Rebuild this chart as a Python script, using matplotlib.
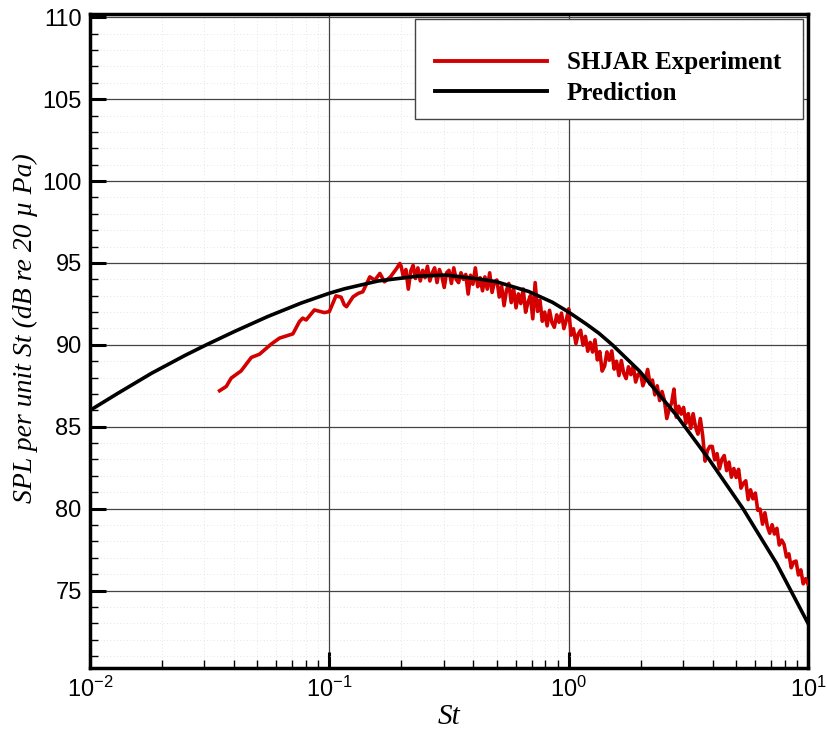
import matplotlib
matplotlib.use("Agg")
import matplotlib.pyplot as plt
from matplotlib.patches import Rectangle
from matplotlib.ticker import MultipleLocator, LogLocator, NullFormatter, FixedLocator, FixedFormatter

# SHJAR experiment, SPL per unit St
st_exp = [0.0348, 0.0371, 0.0389, 0.0428, 0.0472, 0.0511, 0.0571, 0.0619, 0.0704, 0.0750,
          0.0774, 0.0800, 0.0866, 0.0953, 0.1000, 0.1066, 0.1120, 0.1155, 0.1180, 0.1256,
          0.1320, 0.1380, 0.1476, 0.1550, 0.1626, 0.1700, 0.1800, 0.1910, 0.1970,
          0.1995, 0.2042, 0.2089, 0.2138, 0.2188, 0.2239, 0.2291, 0.2344, 0.2399, 0.2455,
          0.2512, 0.2570, 0.2630, 0.2692, 0.2754, 0.2818, 0.2884, 0.2951, 0.3020, 0.3090,
          0.3162, 0.3236, 0.3311, 0.3388, 0.3467, 0.3548, 0.3631, 0.3715, 0.3802, 0.3890,
          0.3981, 0.4074, 0.4169, 0.4266, 0.4365, 0.4467, 0.4571, 0.4677, 0.4786, 0.4898,
          0.5012, 0.5129, 0.5248, 0.5370, 0.5495, 0.5623, 0.5754, 0.5888, 0.6026, 0.6166,
          0.6310, 0.6457, 0.6607, 0.6761, 0.6918, 0.7079, 0.7244, 0.7413, 0.7586, 0.7762,
          0.7943, 0.8128, 0.8318, 0.8511, 0.8710, 0.8913, 0.9120, 0.9333, 0.9550, 0.9772,
          1.000, 1.023, 1.047, 1.072, 1.096, 1.122, 1.148, 1.175, 1.202, 1.230,
          1.259, 1.288, 1.318, 1.349, 1.380, 1.413, 1.445, 1.479, 1.514, 1.549,
          1.585, 1.622, 1.660, 1.698, 1.738, 1.778, 1.820, 1.862, 1.905, 1.950,
          1.995, 2.042, 2.089, 2.138, 2.188, 2.239, 2.291, 2.344, 2.399, 2.455,
          2.512, 2.570, 2.630, 2.692, 2.754, 2.818, 2.884, 2.951, 3.020, 3.090,
          3.162, 3.236, 3.311, 3.388, 3.467, 3.548, 3.631, 3.715, 3.802, 3.890,
          3.981, 4.074, 4.169, 4.266, 4.365, 4.467, 4.571, 4.677, 4.786, 4.898,
          5.012, 5.129, 5.248, 5.370, 5.495, 5.623, 5.754, 5.888, 6.026, 6.166,
          6.310, 6.457, 6.607, 6.761, 6.918, 7.079, 7.244, 7.413, 7.586, 7.762,
          7.943, 8.128, 8.318, 8.511, 8.710, 8.913, 9.120, 9.333, 9.550, 9.772,
          10.00]
spl_exp = [87.20, 87.46, 87.97, 88.41, 89.23, 89.43, 90.04, 90.41, 90.67, 91.42,
           91.63, 91.52, 92.13, 91.97, 92.03, 92.99, 92.91, 92.44, 92.33, 92.93,
           93.14, 93.24, 94.15, 93.95, 94.36, 93.85, 94.15, 94.66, 94.97,
           94.80, 94.10, 94.60, 93.40, 94.50, 94.85, 94.05, 94.70, 93.90, 94.55,
           94.10, 94.80, 93.90, 94.40, 94.70, 93.80, 94.60, 94.20, 93.50, 94.40,
           94.55, 93.75, 94.70, 94.00, 93.80, 94.40, 94.00, 94.30, 93.10, 94.25,
           93.70, 94.70, 93.55, 94.10, 93.30, 94.15, 93.40, 94.40, 93.20, 93.85,
           93.96, 92.92, 93.57, 92.39, 93.32, 93.75, 92.58, 93.43, 92.26, 93.11,
           92.52, 93.41, 91.99, 92.60, 93.00, 91.59, 93.80, 92.04, 92.72, 91.44,
           92.00, 91.16, 92.11, 91.37, 91.07, 91.83, 91.38, 91.94, 90.99, 91.50,
           92.20, 90.59, 90.98, 90.07, 90.66, 90.89, 89.98, 90.52, 89.61, 90.15,
           89.56, 90.31, 89.08, 89.59, 88.40, 88.70, 89.57, 89.06, 89.63, 88.52,
           89.00, 88.12, 89.04, 88.27, 87.94, 88.66, 88.18, 88.71, 87.73, 88.20,
           88.30, 87.50, 87.90, 88.50, 87.60, 87.85, 86.95, 87.50, 86.60, 87.15,
           86.60, 85.50, 86.08, 86.45, 87.30, 85.58, 86.25, 85.77, 86.18, 85.20,
           85.80, 84.90, 85.80, 85.00, 84.55, 85.50, 84.45, 82.90, 83.55, 83.80,
           83.80, 82.98, 83.36, 82.43, 83.01, 83.24, 82.32, 82.84, 81.92, 82.45,
           81.90, 82.40, 81.25, 81.55, 81.70, 80.55, 81.15, 80.60, 80.95, 79.90,
           79.97, 79.05, 79.75, 78.92, 78.50, 79.02, 78.45, 78.80, 77.78, 78.08,
           77.82, 77.05, 77.24, 76.39, 76.74, 76.80, 75.95, 76.26, 75.41, 75.72,
           75.40]

# Prediction
st_pred = [0.01, 0.0131, 0.0181, 0.0249, 0.0306, 0.0402, 0.0553, 0.0762, 0.1, 0.1155,
           0.16, 0.236, 0.308, 0.423, 0.5, 0.68, 0.855, 1.0, 1.19, 1.34,
           1.528, 1.977, 2.82, 3.88, 5.35, 7.38, 10.0]
spl_pred = [86.0, 87.05, 88.27, 89.35, 90.0, 90.82, 91.73, 92.55, 93.15, 93.42,
            93.9, 94.2, 94.26, 94.02, 93.85, 93.26, 92.6, 92.0, 91.25, 90.7,
            89.98, 88.4, 85.7, 82.96, 80.0, 76.67, 73.0]

yticks = [75, 80, 85, 90, 95, 100, 105, 110]
xticks = [0.01, 0.1, 1, 10]
xticklabels = [r'$\mathdefault{10^{-2}}$', r'$\mathdefault{10^{-1}}$',
               r'$\mathdefault{10^{0}}$', r'$\mathdefault{10^{1}}$']
series_labels = ['SHJAR Experiment', 'Prediction']

plt.rcParams['font.family'] = ['Liberation Sans', 'DejaVu Sans']
plt.rcParams['axes.unicode_minus'] = False

fig = plt.figure(figsize=(8.27, 7.30), dpi=100)
ax = fig.add_axes([90 / 827, 62 / 730, 718 / 827, 654 / 730])

ax.plot(st_exp, spl_exp, color='#d40000', lw=2.6, label=series_labels[0], zorder=3)
ax.plot(st_pred, spl_pred, color='black', lw=2.6, label=series_labels[1], zorder=3.5)

ax.set_xscale('log')
ax.set_xlim(0.01, 10)
ax.set_ylim(70.27, 110.2)

ax.xaxis.set_major_locator(FixedLocator(xticks))
ax.xaxis.set_major_formatter(FixedFormatter(xticklabels))
ax.xaxis.set_minor_locator(LogLocator(base=10, subs=range(2, 10)))
ax.xaxis.set_minor_formatter(NullFormatter())
ax.yaxis.set_major_locator(FixedLocator(yticks))
ax.yaxis.set_minor_locator(MultipleLocator(1))

ax.tick_params(which='major', direction='in', length=11.5, width=2.2, labelsize=17)
ax.tick_params(which='minor', direction='in', length=6, width=1.0)
ax.tick_params(axis='both', which='both', pad=6)

ax.grid(which='major', color='#444444', lw=0.9, zorder=1)
ax.grid(which='minor', color='#dddddd', ls=(0, (1, 3)), lw=0.6, zorder=1)
ax.set_axisbelow(True)

for sp in ax.spines.values():
    sp.set_linewidth(2.5)

ax.set_xlabel('St', family='Liberation Serif', style='italic', fontsize=21, labelpad=2)
ax.set_ylabel('SPL per unit St (dB re 20 \u00b5 Pa)', family='Liberation Serif',
              style='italic', fontsize=20)
ax.yaxis.set_label_coords(-0.073, 0.52)

# legend box
ax.add_patch(Rectangle((0.4526, 0.8394), 0.5404, 0.153, transform=ax.transAxes,
                       facecolor='white', edgecolor='#444444', lw=1.0, zorder=4))
leg = ax.legend(loc='center left', bbox_to_anchor=(0.4624, 0.902), frameon=False,
                prop={'family': 'Liberation Serif', 'weight': 'bold', 'size': 18},
                handlelength=4.5, handletextpad=0.8, borderpad=0, labelspacing=0.3)
leg.set_zorder(5)
for ln in leg.get_lines():
    ln.set_linewidth(2.8)

plt.savefig('out.png', dpi=100)
